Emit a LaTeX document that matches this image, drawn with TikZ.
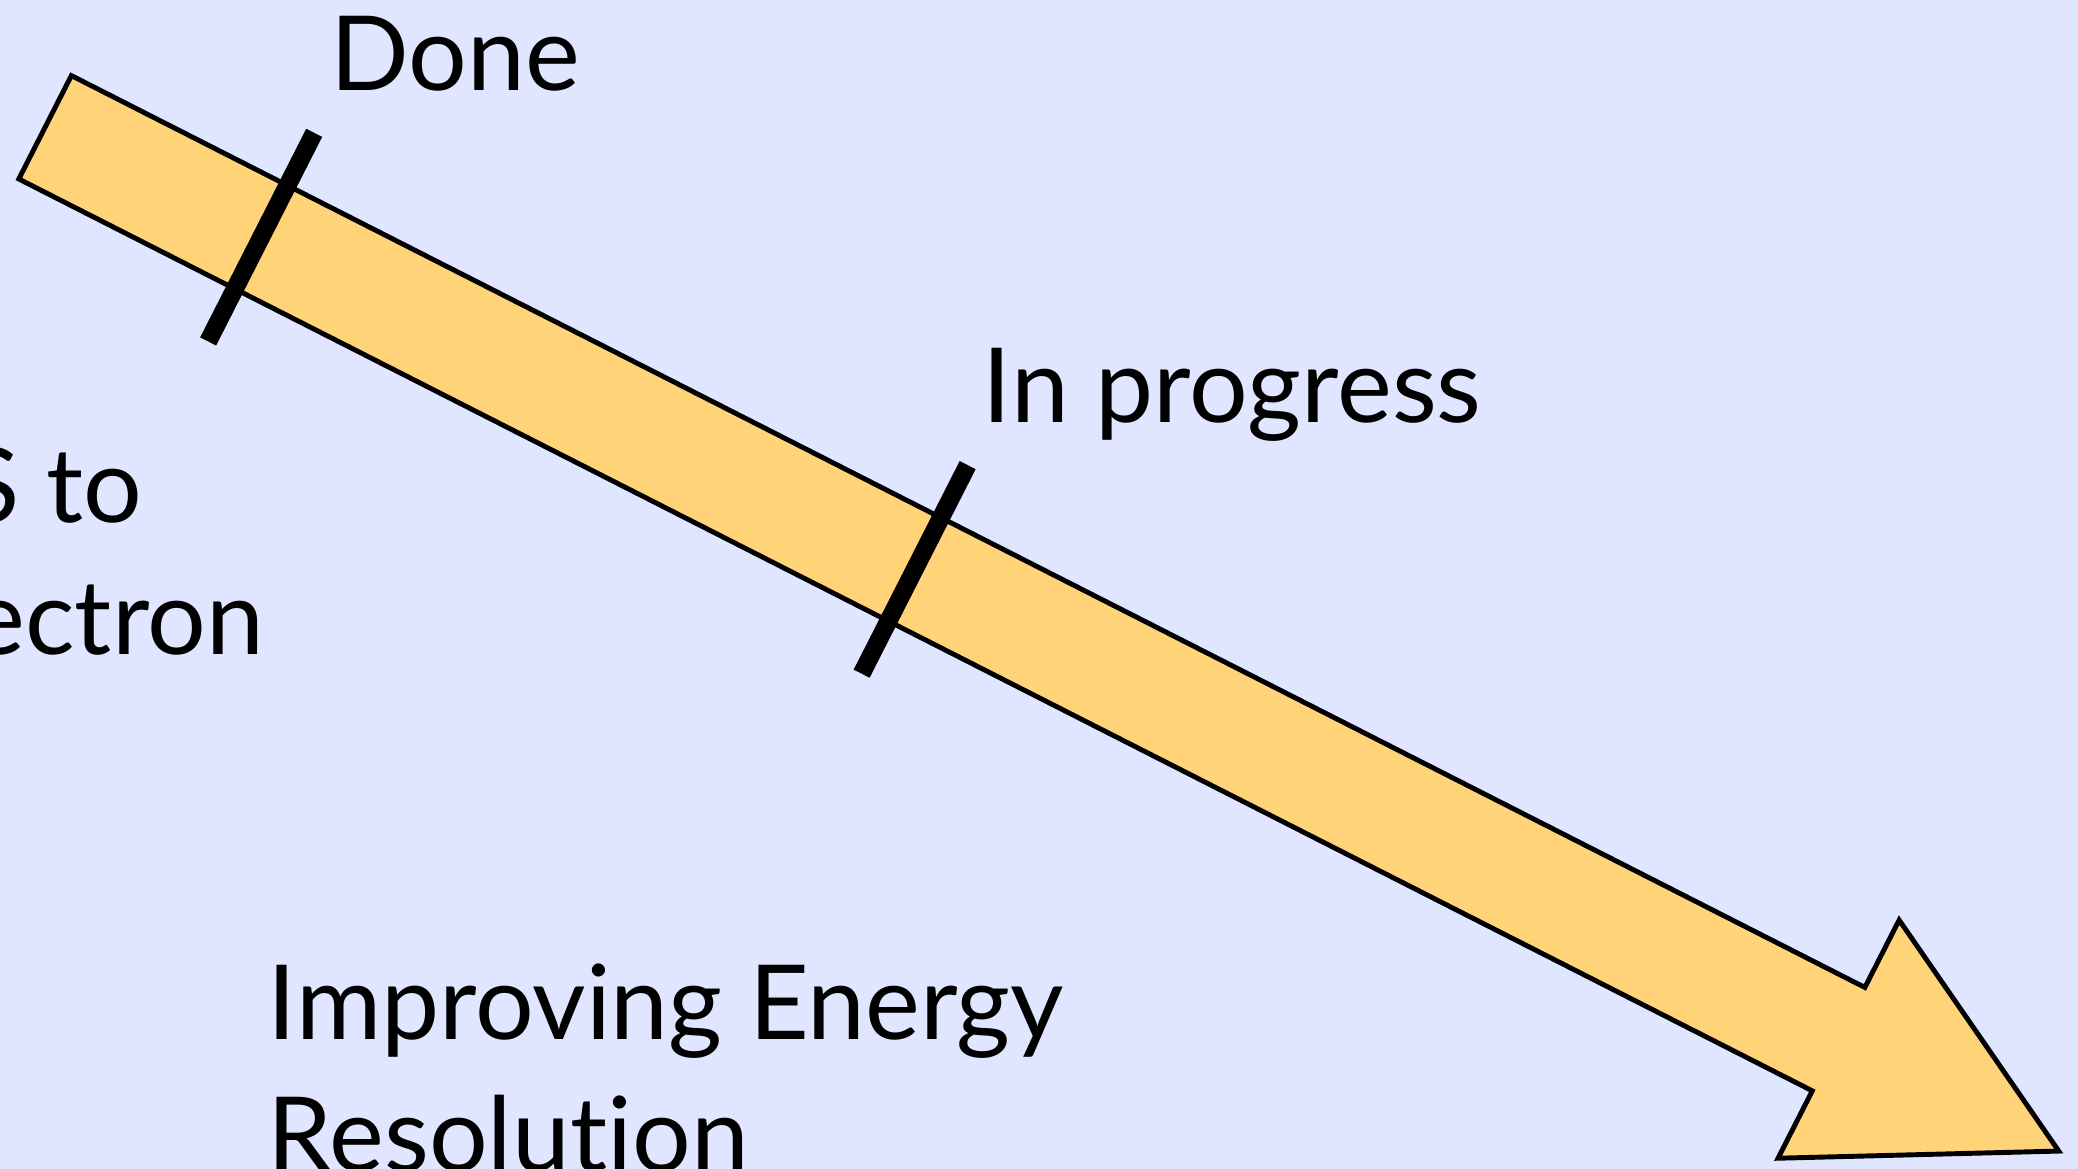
\documentclass[tikz,border=0pt]{standalone}
\usepackage{fontspec}
\setmainfont{Lato}[Ligatures=NoCommon]
\definecolor{bglav}{RGB}{224,230,255}
\definecolor{arrowfill}{RGB}{255,212,121}

\begin{document}
\begin{tikzpicture}[
        lbl/.style={font=\fontsize{29.5}{37.6}\selectfont, inner sep=0pt, anchor=base west},
        milestone/.style={line width=5.1pt, black}
    ]

    % Canvas
    \useasboundingbox (0, 0) rectangle (20.78, 11.69);
    \fill[bglav] (0, 0) rectangle (20.78, 11.69);
    \clip (0, 0) rectangle (20.78, 11.69);

    % Progress arrow, drawn along its own axis (tail centre at origin)
    \begin{scope}[shift={(0.451, 10.417)}, rotate=-26.95]
        \draw[fill=arrowfill, line width=1.4pt, line join=miter]
            (0, 0.58) -- (20.12, 0.58) -- (20.12, 1.336) -- (22.59, 0)
            -- (20.12, -1.336) -- (20.12, -0.58) -- (0, -0.58) -- cycle;

        % Milestone marks across the shaft
        \foreach \s in {2.424, 9.755}
            \draw[milestone] (\s, 1.17) -- (\s, -1.17);
    \end{scope}

    % Labels
    \node[lbl] (done) at (3.30, 10.78) {Done};
    \node[lbl] (inprog) at (9.82, 7.46) {In progress};

    % Cut off at the left edge
    \node[lbl, anchor=base east] (applyto) at (1.43, 6.46) {S to};
    \node[lbl, anchor=base east] (electron) at (2.65, 5.14) {ectron};

    % base anchor sits on the last line
    \node[lbl, align=left] (eres) at (2.67, -0.03) {Improving Energy\\Resolution};

\end{tikzpicture}
\end{document}
